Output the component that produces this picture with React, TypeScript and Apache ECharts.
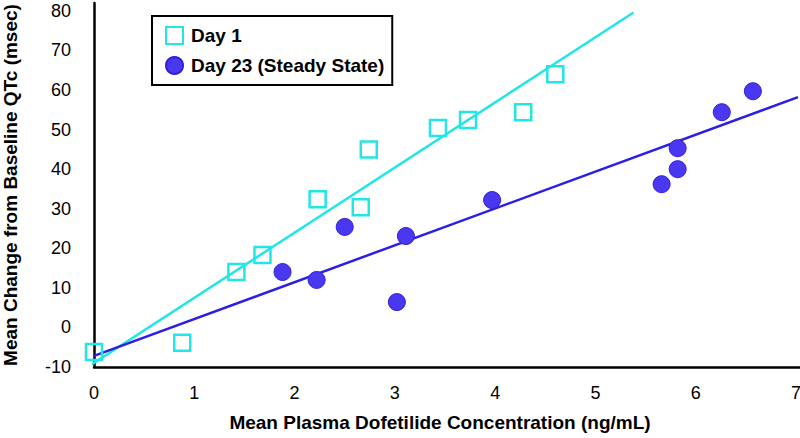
import React, { useEffect, useRef } from "react";
import * as echarts from "echarts";

// Day 1 observations: [concentration (ng/mL), mean change in QTc (msec)]
const day1X = [0.0, 0.88, 1.42, 1.68, 2.23, 2.66, 2.74, 3.43, 3.73, 4.28, 4.6];
const day1Y = [-6.2, -3.9, 14.0, 18.3, 32.4, 30.4, 45.0, 50.4, 52.4, 54.4, 64.0];

// Day 23 (steady state) observations
const day23X = [1.88, 2.22, 2.5, 3.02, 3.11, 3.97, 5.66, 5.82, 5.82, 6.26, 6.57];
const day23Y = [14.0, 12.0, 25.4, 6.4, 23.1, 32.2, 36.2, 40.0, 45.3, 54.4, 59.7];

// Fitted regression lines (end points)
const day1FitX = [-0.05, 5.38];
const day1FitY = [-9.8, 79.6];
const day23FitX = [0.0, 7.02];
const day23FitY = [-7.2, 58.2];

const xTicks = [0, 1, 2, 3, 4, 5, 6, 7];
const yTicks = [-10, 0, 10, 20, 30, 40, 50, 60, 70, 80];

const seriesNames = ["Day 1", "Day 23 (Steady State)"];

const CYAN = "#22E6E6";
const BLUE_FILL = "#4A38F0";
const BLUE_EDGE = "#3020D8";
const BLUE_LINE = "#2B1FE6";
const FONT = "'Liberation Sans', Arial, Helvetica, sans-serif";

const zip = (xs: number[], ys: number[]) => xs.map((x, i) => [x, ys[i]]);

export default function App() {
  const ref = useRef<HTMLDivElement>(null);

  useEffect(() => {
    if (!ref.current) return;
    const chart = echarts.init(ref.current, undefined, { renderer: "svg" });
    const fmt = (ticks: number[]) => (v: number) =>
      ticks.some((t) => Math.abs(t - v) < 1e-9) ? String(Math.round(v)) : "";

    chart.setOption({
      animation: false,
      backgroundColor: "#ffffff",
      grid: { left: 94, right: 0, top: 3, bottom: 71, containLabel: false, outerBoundsMode: "none" },
      legend: {
        orient: "vertical",
        left: 152,
        top: 16,
        padding: [10, 8, 10, 13],
        itemGap: 11,
        itemWidth: 17,
        itemHeight: 17,
        borderColor: "#000000",
        borderWidth: 2,
        backgroundColor: "#ffffff",
        data: [
          { name: seriesNames[0], icon: "rect" },
          { name: seriesNames[1], icon: "circle" },
        ],
        textStyle: {
          fontFamily: FONT,
          fontWeight: "bold",
          fontSize: 19,
          color: "#000000",
          padding: [0, 0, 0, 3],
        },
      },
      xAxis: {
        type: "value",
        min: 0,
        max: 7.04,
        interval: 1,
        splitLine: { show: false },
        axisTick: { show: false },
        axisLine: { show: true, onZero: false, lineStyle: { color: "#000000", width: 2.5 } },
        axisLabel: {
          formatter: fmt(xTicks),
          fontFamily: FONT,
          fontSize: 18,
          color: "#000000",
          margin: 17,
        },
        name: "Mean Plasma Dofetilide Concentration (ng/mL)",
        nameLocation: "middle",
        nameGap: 46,
        nameTextStyle: {
          fontFamily: FONT,
          fontWeight: "bold",
          fontSize: 19,
          color: "#000000",
          padding: [0, 14, 0, 0],
        },
      },
      yAxis: {
        type: "value",
        min: -10,
        max: 82,
        interval: 10,
        splitLine: { show: false },
        axisTick: { show: false },
        axisLine: { show: true, onZero: false, lineStyle: { color: "#000000", width: 2.5 } },
        axisLabel: {
          formatter: fmt(yTicks),
          fontFamily: FONT,
          fontSize: 18,
          color: "#000000",
          margin: 23,
        },
        name: "Mean Change from Baseline QTc (msec)",
        nameLocation: "middle",
        nameGap: 74,
        nameTextStyle: {
          fontFamily: FONT,
          fontWeight: "bold",
          fontSize: 19,
          color: "#000000",
        },
      },
      series: [
        {
          name: seriesNames[0] + " fit",
          type: "line",
          data: zip(day1FitX, day1FitY),
          showSymbol: false,
          clip: false,
          lineStyle: { color: CYAN, width: 2.5 },
          silent: true,
          z: 1,
        },
        {
          name: seriesNames[1] + " fit",
          type: "line",
          data: zip(day23FitX, day23FitY),
          showSymbol: false,
          clip: false,
          lineStyle: { color: BLUE_LINE, width: 2.5 },
          silent: true,
          z: 1,
        },
        {
          name: seriesNames[0],
          type: "scatter",
          data: zip(day1X, day1Y),
          symbol: "rect",
          symbolSize: 16,
          clip: false,
          itemStyle: { color: "rgba(255,255,255,0)", borderColor: CYAN, borderWidth: 2.5, opacity: 1 },
          z: 3,
        },
        {
          name: seriesNames[1],
          type: "scatter",
          data: zip(day23X, day23Y),
          symbol: "circle",
          symbolSize: 17,
          clip: false,
          itemStyle: { color: BLUE_FILL, borderColor: BLUE_EDGE, borderWidth: 1, opacity: 1 },
          z: 3,
        },
      ],
    });
    return () => chart.dispose();
  }, []);

  return <div ref={ref} style={{ width: 800, height: 438, position: "absolute", left: 0, top: 0 }} />;
}
